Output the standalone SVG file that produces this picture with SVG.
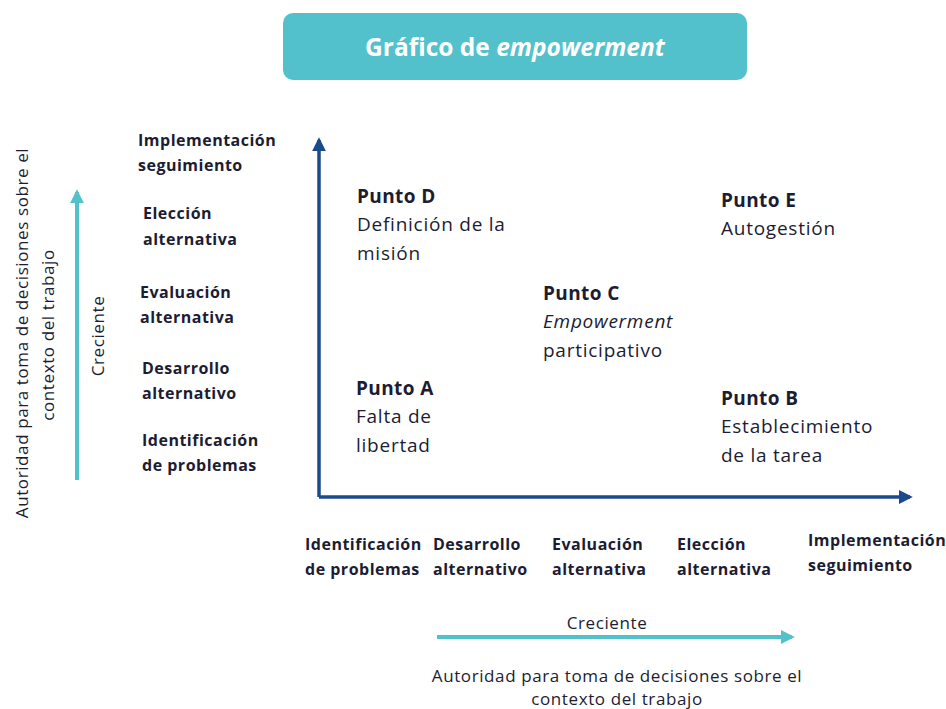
<svg xmlns="http://www.w3.org/2000/svg" width="946" height="709" viewBox="0 0 946 709">
<style>
text{font-family:"Open Sans","Noto Sans","Liberation Sans",sans-serif;fill:#1c1c33}
.lb{font-weight:bold;font-size:16px;letter-spacing:0.5px}
.pt{font-weight:bold;font-size:19px;letter-spacing:0.4px}
.pd{font-size:19px;letter-spacing:0.75px}
.rg{font-size:17px;letter-spacing:0.6px}
.title{font-weight:bold;font-size:24.5px;fill:#ffffff}
</style>
<defs>
<marker id="ab" viewBox="0 0 10 10" refX="8" refY="5" markerWidth="4" markerHeight="4" orient="auto" markerUnits="strokeWidth"><path d="M0,0 L10,5 L0,10 z" fill="#1b4a8a"/></marker>
<marker id="at" viewBox="0 0 10 10" refX="8" refY="5" markerWidth="3.5" markerHeight="3.5" orient="auto" markerUnits="strokeWidth"><path d="M0,0 L10,5 L0,10 z" fill="#53c1cc"/></marker>
</defs>
<rect width="946" height="709" fill="#ffffff"/>
<g id="title">
<rect x="283" y="13" width="464" height="67" rx="10" fill="#53c1cc"/>
<text class="title" x="515" y="56" text-anchor="middle">Gráfico de <tspan font-style="italic">empowerment</tspan></text>
</g>
<g id="connectors">
<path d="M319,497 V140" stroke="#1b4a8a" stroke-width="3.5" fill="none" marker-end="url(#ab)"/>
<path d="M319,497 H910" stroke="#1b4a8a" stroke-width="3.5" fill="none" marker-end="url(#ab)"/>
<path d="M77,480 V192" stroke="#53c1cc" stroke-width="4" fill="none" marker-end="url(#at)"/>
<path d="M437,637 H792" stroke="#53c1cc" stroke-width="4" fill="none" marker-end="url(#at)"/>
</g>
<g id="y-axis-title">
<text class="rg" transform="translate(28,333) rotate(-90)" text-anchor="middle">Autoridad para toma de decisiones sobre el</text>
<text class="rg" transform="translate(54,335) rotate(-90)" text-anchor="middle">contexto del trabajo</text>
<text class="rg" transform="translate(104,336) rotate(-90)" text-anchor="middle">Creciente</text>
</g>
<g id="y-labels">
<text class="lb" x="138" y="146">Implementación</text>
<text class="lb" x="138" y="171">seguimiento</text>
<text class="lb" x="143" y="219">Elección</text>
<text class="lb" x="143" y="245">alternativa</text>
<text class="lb" x="140" y="298">Evaluación</text>
<text class="lb" x="140" y="323">alternativa</text>
<text class="lb" x="142" y="374">Desarrollo</text>
<text class="lb" x="142" y="399">alternativo</text>
<text class="lb" x="142" y="446">Identificación</text>
<text class="lb" x="142" y="471">de problemas</text>
</g>
<g id="x-labels">
<text class="lb" x="305" y="550">Identificación</text>
<text class="lb" x="305" y="575">de problemas</text>
<text class="lb" x="433" y="550">Desarrollo</text>
<text class="lb" x="433" y="575">alternativo</text>
<text class="lb" x="552" y="550">Evaluación</text>
<text class="lb" x="552" y="575">alternativa</text>
<text class="lb" x="677" y="550">Elección</text>
<text class="lb" x="677" y="575">alternativa</text>
<text class="lb" x="808" y="546">Implementación</text>
<text class="lb" x="808" y="571">seguimiento</text>
</g>
<g id="x-axis-title">
<text class="rg" x="607" y="629" text-anchor="middle">Creciente</text>
<text class="rg" x="617" y="682" text-anchor="middle">Autoridad para toma de decisiones sobre el</text>
<text class="rg" x="617" y="705" text-anchor="middle">contexto del trabajo</text>
</g>
<g id="punto-d">
<text class="pt" x="357" y="203">Punto D</text>
<text class="pd" x="357" y="231">Definición de la</text>
<text class="pd" x="357" y="260">misión</text>
</g>
<g id="punto-e">
<text class="pt" x="721" y="207">Punto E</text>
<text class="pd" x="721" y="235">Autogestión</text>
</g>
<g id="punto-c">
<text class="pt" x="543" y="300">Punto C</text>
<text class="pd" x="543" y="328" font-style="italic">Empowerment</text>
<text class="pd" x="543" y="357">participativo</text>
</g>
<g id="punto-a">
<text class="pt" x="356" y="395">Punto A</text>
<text class="pd" x="356" y="423">Falta de</text>
<text class="pd" x="356" y="452">libertad</text>
</g>
<g id="punto-b">
<text class="pt" x="721" y="405">Punto B</text>
<text class="pd" x="721" y="433">Establecimiento</text>
<text class="pd" x="721" y="462">de la tarea</text>
</g>
</svg>
